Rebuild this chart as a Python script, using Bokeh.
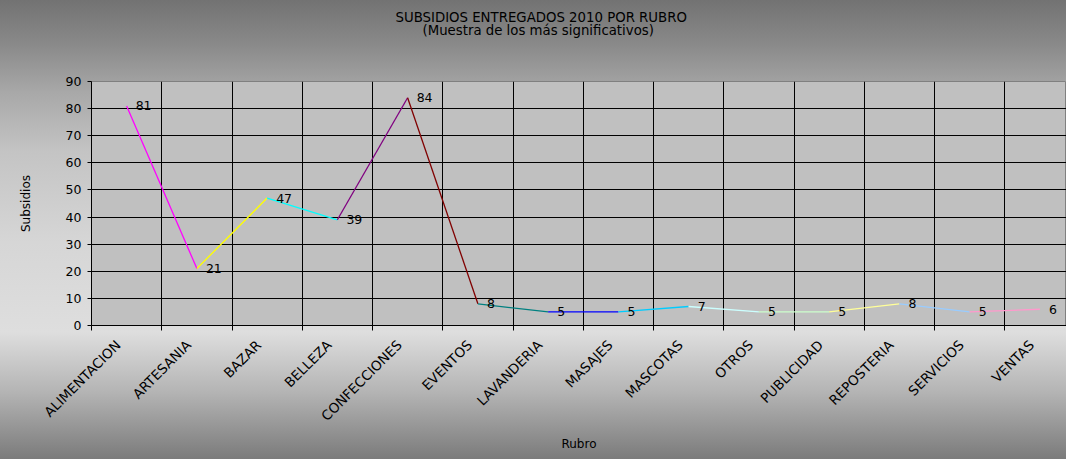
import math
from bokeh.plotting import figure
from bokeh.models import Range1d, FixedTicker, ColumnDataSource, Title
from bokeh.core.properties import value
from bokeh.embed import file_html
from bokeh.resources import INLINE

# ---- data ----
categories = ["ALIMENTACION", "ARTESANIA", "BAZAR", "BELLEZA", "CONFECCIONES", "EVENTOS",
              "LAVANDERIA", "MASAJES", "MASCOTAS", "OTROS", "PUBLICIDAD", "REPOSTERIA",
              "SERVICIOS", "VENTAS"]
subsidios = [81, 21, 47, 39, 84, 8, 5, 5, 7, 5, 5, 8, 5, 6]
point_colors = ["#000080", "#FF00FF", "#FFFF00", "#00FFFF", "#800080", "#800000", "#008080",
                "#0000FF", "#00CCFF", "#CCFFFF", "#CCFFCC", "#FFFF99", "#99CCFF", "#FF99CC"]
y_ticks = list(range(0, 91, 10))
title_text = "SUBSIDIOS ENTREGADOS 2010 POR RUBRO"
subtitle_text = "(Muestra de los más significativos)"

FONT = "DejaVu Sans"
W, H = 1066, 459

xc = [i + 0.5 for i in range(len(categories))]
bounds = list(range(0, len(categories) + 1))
label_pos = [x - 0.12 for x in xc]   # Excel anchors rotated labels slightly left of centre

p = figure(width=W, height=H, output_backend="svg", toolbar_location=None,
           x_range=Range1d(0, 13.879), y_range=Range1d(0, 90),
           min_border_left=91, min_border_right=0, min_border_top=81, min_border_bottom=134)

p.background_fill_color = "#c0c0c0"
p.border_fill_color = None
p.outline_line_color = "#808080"
p.styles = {"background": "linear-gradient(to bottom, #707070 -5px, #888888 42px, #a8a8a8 92px, "
                          "#c4c4c4 152px, #d6d6d6 242px, #dedede 332px, #b4b4b4 392px, #747474 467px)"}

def style_title(t, offset, standoff):
    t.align = "left"
    t.offset = offset
    t.standoff = standoff
    t.text_font = FONT
    t.text_font_size = "13.3px"
    t.text_font_style = "normal"
    t.text_color = "black"

# stack above the plot: spacer (innermost), subtitle, title (outermost)
spacer = Title(text=" ")
style_title(spacer, 0, 27.5)
p.add_layout(spacer, "above")
sub = Title(text=subtitle_text)
style_title(sub, 331, -2)
p.add_layout(sub, "above")
p.title.text = title_text
style_title(p.title, 304, -6)

# line segments, each coloured like its end point
seg = ColumnDataSource(dict(x0=xc[:-1], y0=subsidios[:-1], x1=xc[1:], y1=subsidios[1:],
                            color=point_colors[1:]))
p.segment("x0", "y0", "x1", "y1", source=seg, line_color="color", line_width=1.3)

# data labels
lab = ColumnDataSource(dict(x=xc, y=subsidios, t=[str(v) for v in subsidios]))
p.text("x", "y", text="t", source=lab, x_offset=9, text_align="left", text_baseline="middle",
       text_font=value(FONT), text_font_size="12.5px", text_color="black")

# x axis
xa = p.xaxis[0]
xa.ticker = FixedTicker(ticks=label_pos, minor_ticks=bounds)
xa.major_label_overrides = {x: c for x, c in zip(label_pos, categories)}
xa.major_tick_out = 0
xa.major_tick_in = 0
xa.minor_tick_out = 5
xa.minor_tick_in = 0
xa.minor_tick_line_color = "black"
xa.axis_line_color = "black"
xa.major_label_orientation = math.pi / 4
xa.major_label_standoff = 12
xa.major_label_text_font = FONT
xa.major_label_text_font_size = "13.5px"
xa.major_label_text_color = "black"
xa.axis_label = "Rubro"
xa.axis_label_standoff = 4
xa.axis_label_text_font = FONT
xa.axis_label_text_font_size = "12px"
xa.axis_label_text_font_style = "normal"
xa.axis_label_text_color = "black"

# y axis
ya = p.yaxis[0]
ya.ticker = FixedTicker(ticks=y_ticks)
ya.major_tick_out = 4
ya.major_tick_in = 0
ya.major_tick_line_color = "black"
ya.axis_line_color = "black"
ya.major_label_standoff = 6
ya.major_label_text_font = FONT
ya.major_label_text_font_size = "12.5px"
ya.major_label_text_color = "black"
ya.axis_label = "Subsidios"
ya.axis_label_standoff = 30
ya.axis_label_text_font = FONT
ya.axis_label_text_font_size = "12px"
ya.axis_label_text_font_style = "normal"
ya.axis_label_text_color = "black"

# grids
p.xgrid.ticker = FixedTicker(ticks=bounds[1:-1])
p.xgrid.grid_line_color = "black"
p.xgrid.grid_line_width = 1
p.ygrid.grid_line_color = "black"
p.ygrid.grid_line_width = 1

open("out.html", "w").write(file_html(p, INLINE))
